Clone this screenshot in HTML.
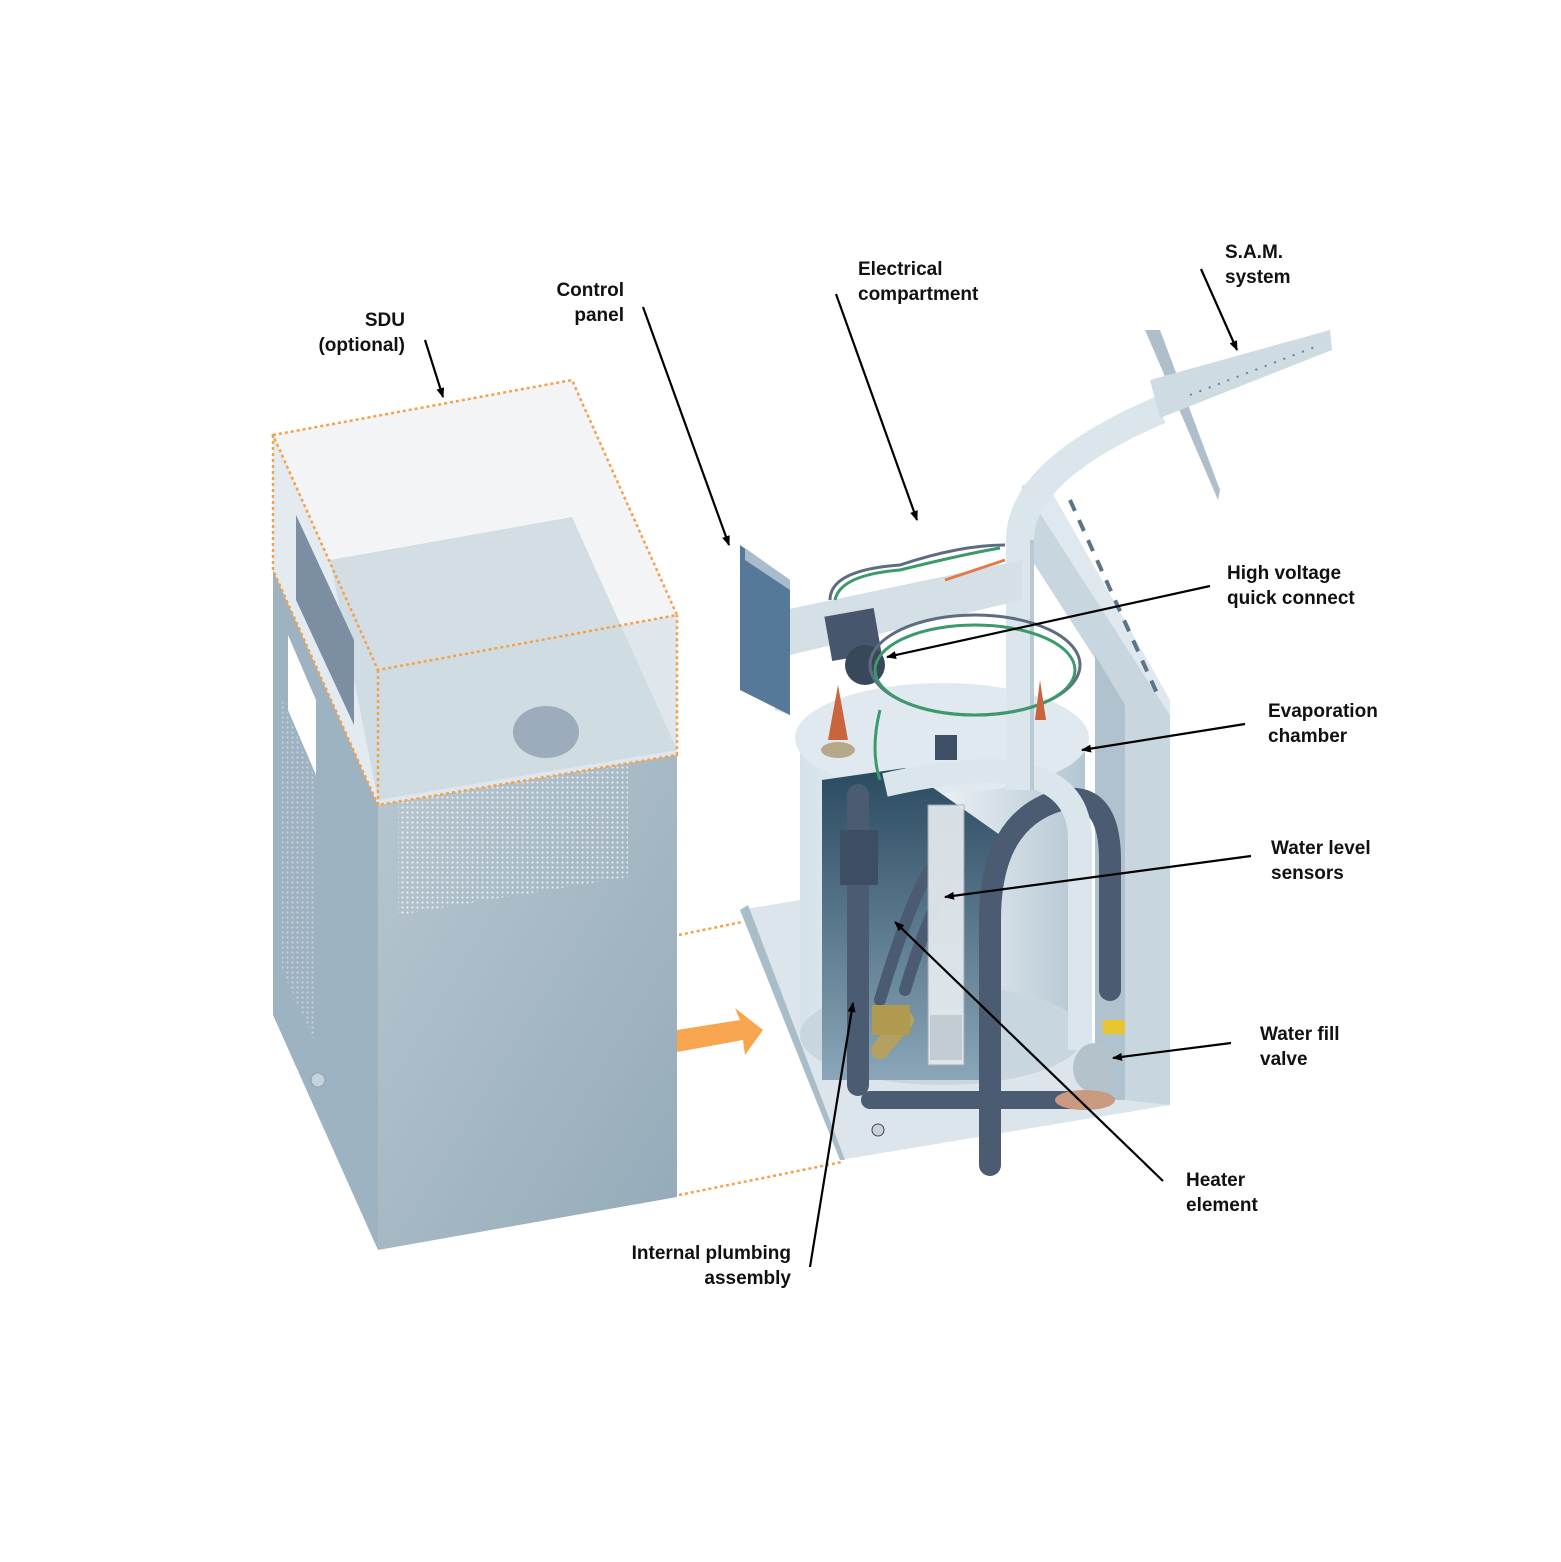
<!DOCTYPE html>
<html><head><meta charset="utf-8"><style>
html,body{margin:0;padding:0;background:#fff}
svg{display:block}
text{font-family:"Liberation Sans",sans-serif;font-weight:bold;font-size:19px;fill:#111}
</style></head><body>
<svg width="1561" height="1562" viewBox="0 0 1561 1562" xmlns="http://www.w3.org/2000/svg">
<defs>
<marker id="ah" markerWidth="10" markerHeight="8" refX="9" refY="4" orient="auto" markerUnits="userSpaceOnUse" viewBox="0 0 10 8">
<path d="M0,0 L10,4 L0,8 z" fill="#000"/></marker>
<pattern id="dots" width="5" height="5" patternUnits="userSpaceOnUse"><circle cx="2.5" cy="2.5" r="1.1" fill="#eef3f6"/></pattern>
<linearGradient id="front" x1="0" y1="0" x2="1" y2="1"><stop offset="0" stop-color="#b7c7d1"/><stop offset="1" stop-color="#94aab8"/></linearGradient>
<linearGradient id="tank" x1="0" y1="0" x2="1" y2="0"><stop offset="0" stop-color="#d6e2ea"/><stop offset="0.5" stop-color="#eaf0f4"/><stop offset="1" stop-color="#b4c6d2"/></linearGradient>
<linearGradient id="inner" x1="0" y1="0" x2="0" y2="1"><stop offset="0" stop-color="#2a4a60"/><stop offset="1" stop-color="#8aa6b8"/></linearGradient>
<clipPath id="boxclip"><polygon points="273,435 572,380 677,615 677,755 378,805 273,570"/></clipPath>
</defs>

<!-- Left cabinet -->
<polygon points="273,570 378,805 378,1250 273,1015" fill="#9db3c1"/>
<polygon points="378,805 677,755 677,1197 378,1250" fill="url(#front)"/>
<polygon points="398,800 628,762 628,877 398,915" fill="url(#dots)" opacity="0.9"/>
<polygon points="282,700 316,780 316,1045 282,970" fill="url(#dots)" opacity="0.5"/>
<circle cx="318" cy="1080" r="7" fill="#c5d3dc" stroke="#8aa0ae"/>
<!-- SDU transparent box -->
<polygon points="273,435 572,380 677,615 378,670" fill="#f2f4f6"/>
<polygon points="378,670 677,615 677,755 378,805" fill="#dfe7ec"/>
<polygon points="273,435 378,670 378,805 273,570" fill="#e4ebf0"/>
<g clip-path="url(#boxclip)">
<polygon points="330,560 572,517 677,750 378,800" fill="#cdd9e1" opacity="0.85"/>
</g>
<polygon points="296,515 354,640 354,725 296,600" fill="#7b8ea2"/>
<polygon points="288,635 316,700 316,775 288,710" fill="#fff"/>
<ellipse cx="546" cy="732" rx="33" ry="26" fill="#9dacbc"/>
<g fill="none" stroke="#f6a04a" stroke-width="2.5" stroke-dasharray="3,3">
<polygon points="273,435 572,380 677,615 378,670"/>
<polyline points="378,670 378,805 677,755 677,615"/>
<polyline points="273,435 273,570 378,805"/>
<line x1="679" y1="935" x2="742" y2="922"/>
<line x1="679" y1="1195" x2="842" y2="1162"/>
</g>
<polygon points="677,1030 740,1020 735,1008 763,1030 745,1055 743,1040 677,1052" fill="#f7a64f"/>

<!-- Right unit -->
<polygon points="740,910 840,1160 1170,1105 1170,1090 800,900" fill="#dbe5eb"/>
<polygon points="740,910 840,1160 845,1160 748,905" fill="#a9bdc9"/>
<polygon points="1022,485 1170,715 1170,1105 1125,1100 1125,705 1022,545" fill="#c8d6df"/>
<polygon points="1022,485 1045,480 1170,700 1170,715" fill="#dfe8ee"/>
<line x1="1070" y1="500" x2="1160" y2="700" stroke="#5c7488" stroke-width="4" stroke-dasharray="12,10"/>
<polygon points="1095,655 1125,705 1125,1100 1095,1100" fill="#b0c2ce"/>
<!-- tank -->
<rect x="800" y="735" width="285" height="300" fill="url(#tank)"/>
<ellipse cx="942" cy="1035" rx="142" ry="50" fill="#c8d6df"/>
<ellipse cx="942" cy="738" rx="147" ry="55" fill="#e0e9ef"/>
<polygon points="822,780 905,768 1000,835 1000,1080 822,1080" fill="url(#inner)"/>
<!-- dark pipes -->
<g fill="none" stroke="#4a5b72" stroke-linecap="round">
<path d="M858,795 V1085" stroke-width="22"/>
<path d="M870,1100 H1080" stroke-width="18"/>
<path d="M990,1165 V920 Q990,820 1060,800 Q1110,790 1110,860 V990" stroke-width="22"/>
<path d="M880,1000 Q910,900 930,870 M905,990 Q935,890 960,870" stroke-width="12"/>
<path d="M880,1050 L905,1020" stroke-width="18" stroke="#b4a060"/>
</g>
<rect x="840" y="830" width="38" height="55" fill="#3d4d63"/>
<!-- sensor tube -->
<rect x="928" y="805" width="36" height="260" fill="#e8eef2" opacity="0.9" stroke="#aab"/>
<rect x="930" y="1015" width="32" height="45" fill="#c3ccd3"/>
<!-- light pipe -->
<path d="M885,785 Q1080,740 1080,840 V1050" fill="none" stroke="#dbe6ec" stroke-width="24"/>
<path d="M1020,790 V540 Q1020,470 1160,410" fill="none" stroke="#dbe6ec" stroke-width="28"/>
<path d="M1032,790 V540" fill="none" stroke="#b8c9d4" stroke-width="4"/>
<polygon points="1145,330 1160,330 1220,490 1218,500" fill="#aebfcb"/>
<polygon points="1150,380 1330,330 1332,350 1160,418" fill="#cfdbe2"/>
<path d="M1190,395 L1320,345" stroke="#6d8193" stroke-width="2" stroke-dasharray="2,8"/>
<!-- electrical box & control panel -->
<polygon points="775,612 1022,560 1022,600 790,655 790,715 775,710" fill="#d4dfe6"/>
<polygon points="740,545 790,580 790,715 740,690" fill="#56799a"/>
<polygon points="745,548 790,580 790,590 745,560" fill="#a8bccb"/>
<rect x="828" y="612" width="50" height="45" fill="#47566c" transform="rotate(-10 853 635)"/>
<circle cx="865" cy="665" r="20" fill="#39475b"/>
<g fill="none" stroke-width="3">
<path d="M830,600 Q830,570 900,565 Q960,545 1005,545" stroke="#5d6c80"/>
<path d="M835,600 Q840,575 900,570 Q960,555 1000,548" stroke="#3a9a6a"/>
<path d="M945,580 L1005,560" stroke="#e07a4a"/>
<ellipse cx="975" cy="665" rx="105" ry="50" stroke="#5d6c80"/>
<ellipse cx="975" cy="670" rx="100" ry="45" stroke="#3a9a6a"/>
<path d="M880,710 Q870,750 880,780" stroke="#3a9a6a"/>
</g>
<polygon points="828,740 838,685 848,740" fill="#c9643c"/>
<ellipse cx="838" cy="750" rx="17" ry="8" fill="#b5a98a"/>
<polygon points="1035,720 1040,680 1046,720" fill="#c9643c"/>
<rect x="935" y="735" width="22" height="25" fill="#3f4f66"/>
<rect x="1103" y="1020" width="22" height="14" fill="#e5c530"/>
<ellipse cx="1095" cy="1068" rx="22" ry="25" fill="#b4c2cc"/>
<ellipse cx="1085" cy="1100" rx="30" ry="10" fill="#c99a80"/>
<rect x="872" y="1005" width="38" height="30" fill="#b09a50"/>
<circle cx="878" cy="1130" r="6" fill="#c8d0d8" stroke="#445"/>

<!-- leader lines -->
<g stroke="#000" stroke-width="2.2" marker-end="url(#ah)">
<line x1="425" y1="340" x2="443" y2="397"/>
<line x1="643" y1="307" x2="729" y2="545"/>
<line x1="836" y1="294" x2="917" y2="520"/>
<line x1="1201" y1="269" x2="1237" y2="350"/>
<line x1="1210" y1="586" x2="887" y2="657"/>
<line x1="1245" y1="724" x2="1082" y2="750"/>
<line x1="1251" y1="856" x2="945" y2="897"/>
<line x1="1231" y1="1043" x2="1113" y2="1058"/>
<line x1="1163" y1="1181" x2="895" y2="922"/>
<line x1="810" y1="1267" x2="853" y2="1003"/>
</g>

<!-- labels -->
<text x="405" y="326" text-anchor="end">SDU</text>
<text x="405" y="351" text-anchor="end">(optional)</text>
<text x="624" y="296" text-anchor="end">Control</text>
<text x="624" y="321" text-anchor="end">panel</text>
<text x="858" y="275">Electrical</text>
<text x="858" y="300">compartment</text>
<text x="1225" y="258">S.A.M.</text>
<text x="1225" y="283">system</text>
<text x="1227" y="579">High voltage</text>
<text x="1227" y="604">quick connect</text>
<text x="1268" y="717">Evaporation</text>
<text x="1268" y="742">chamber</text>
<text x="1271" y="854">Water level</text>
<text x="1271" y="879">sensors</text>
<text x="1260" y="1040">Water fill</text>
<text x="1260" y="1065">valve</text>
<text x="1186" y="1186">Heater</text>
<text x="1186" y="1211">element</text>
<text x="791" y="1259" text-anchor="end">Internal plumbing</text>
<text x="791" y="1284" text-anchor="end">assembly</text>
</svg>
</body></html>
